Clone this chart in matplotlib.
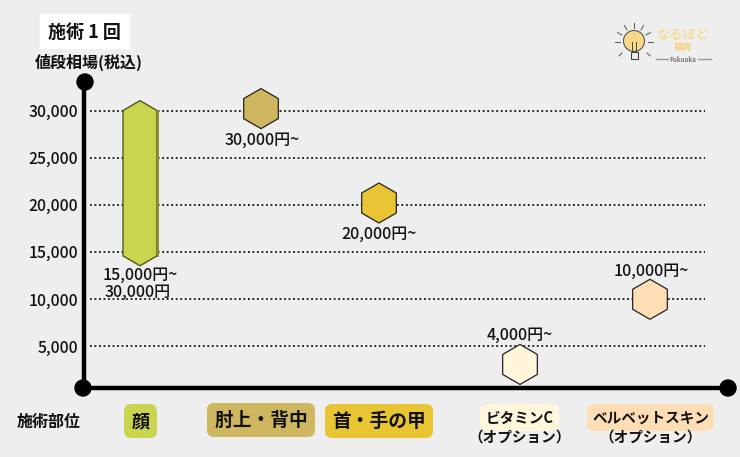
import numpy as np
import matplotlib
matplotlib.use("Agg")
import matplotlib.pyplot as plt
from matplotlib.patches import FancyBboxPatch, Circle

plt.rcParams['font.family'] = ['Noto Sans CJK JP', 'DejaVu Sans']

# values
ticks = [5000, 10000, 15000, 20000, 25000, 30000]
tick_labels = ["5,000", "10,000", "15,000", "20,000", "25,000", "30,000"]
face_low = 14600
face_high = 30000
hex_x = [261, 379, 520, 650]
hex_y = [30200, 20200, 3100, 10000]
hex_colors = ["#CEB75E", "#E9C433", "#FFF6DC", "#FFDDB5"]
price_labels = ["30,000円~", "20,000円~", "4,000円~", "10,000円~"]
price_label_y = [140, 234, 335, 271]
price_label_x = [262, 379, 520, 651]

BG = "#EEEEEE"
fig = plt.figure(figsize=(7.4, 4.57), dpi=100, facecolor=BG)

# value axes, y scale fitted to the gridlines
ax = fig.add_axes([0, 0, 1, 1])
ax.set_xlim(0, 740)
ax.set_ylim(-6706, 41706)
ax.axis("off")

# pixel axes for labels and logo
deco = fig.add_axes([0, 0, 1, 1])
deco.set_xlim(0, 740)
deco.set_ylim(457, 0)
deco.axis("off")
deco.patch.set_alpha(0)

ax.hlines(ticks, 90, 705, colors="#111111", linewidth=1.3, linestyles=(0, (1, 1.5)))

for t, lab in zip(ticks, tick_labels):
    ax.annotate(lab, (78, t), xytext=(0, -1.2), textcoords="offset points", ha="right", va="center",
                fontsize=11.3, fontweight="medium", color="#111111")

# face range bar
bx = 140
bw = 17
cap = 1050
ax.fill([bx - bw, bx, bx + bw, bx + bw, bx, bx - bw],
        [face_high, face_high + cap, face_high, face_low, face_low - cap, face_low],
        facecolor="#C9D44F", edgecolor="#4A4A18", linewidth=0.9, zorder=3)
ax.plot([bx + bw + 0.5, bx + bw + 0.5], [face_high, face_low], color="#8E8A3C", lw=1.4, zorder=4)

ax.scatter(hex_x, hex_y, s=830, marker="h", c=hex_colors, edgecolors="#222222", linewidths=0.9, zorder=3)

deco.plot([84, 84], [82, 388], color="black", lw=3.2, solid_capstyle="butt", zorder=5)
deco.plot([84, 728], [388, 388], color="black", lw=3.2, solid_capstyle="butt", zorder=5)
for cx, cy in [(85, 82), (83, 388), (728, 388)]:
    deco.add_patch(Circle((cx, cy), 8, color="black", zorder=6))

# title and axis names
deco.add_patch(plt.Rectangle((40, 14), 89, 34, color="white", zorder=1))
deco.text(84, 32, "施術 1 回", ha="center", va="center", fontsize=13, fontweight="bold", color="#111111")
deco.text(89, 62, "値段相場(税込)", ha="center", va="center", fontsize=11.5, fontweight="bold", color="#111111")
deco.text(49, 422, "施術部位", ha="center", va="center", fontsize=11.5, fontweight="bold", color="#111111")

for x, y, lab in zip(price_label_x, price_label_y, price_labels):
    deco.text(x, y, lab, ha="center", va="center", fontsize=11.5, fontweight="medium", color="#111111")
deco.text(140, 275, "15,000円~", ha="center", va="center", fontsize=11.5, fontweight="medium", color="#111111")
deco.text(138, 292, "30,000円", ha="center", va="center", fontsize=11.5, fontweight="medium", color="#111111")

# category pills
pills = [(124, 404, 33, 34, "#C9D44F", "顔", 13),
         (207, 403, 108, 34, "#CEB75E", "肘上・背中", 13.5),
         (325, 404, 108, 34, "#E9C433", "首・手の甲", 13.5),
         (480, 404, 79, 27, "#FFF6DC", "ビタミンC", 10.5),
         (587, 404, 127, 27, "#FFDDB5", "ベルベットスキン", 10.5)]
for x, y, w, h, c, lab, fs in pills:
    deco.add_patch(FancyBboxPatch((x + 6, y + 6), w - 12, h - 12, boxstyle="round,pad=6,rounding_size=7",
                                  facecolor=c, edgecolor="none", zorder=2))
    deco.text(x + w / 2, y + h / 2 + 0.5, lab, ha="center", va="center", fontsize=fs, fontweight="bold",
              color="#111111", zorder=3)
deco.text(520, 437, "（オプション）", ha="center", va="center", fontsize=10.5, fontweight="bold", color="#111111")
deco.text(651, 437, "（オプション）", ha="center", va="center", fontsize=10.5, fontweight="bold", color="#111111")

# logo
deco.add_patch(Circle((634, 41), 10.5, facecolor="#F7D98B", edgecolor="#555555", lw=0.8, zorder=3))
deco.add_patch(plt.Rectangle((630.5, 52), 7, 7, facecolor="#EEEEEE", edgecolor="#444444", lw=0.8, zorder=3))
deco.plot([632, 632], [42, 52], color="#444444", lw=0.7, zorder=4)
deco.plot([636, 636], [42, 52], color="#444444", lw=0.7, zorder=4)
for ang in np.arange(-180, 1, 30):
    ca, sa = np.cos(np.radians(ang)), np.sin(np.radians(ang))
    deco.plot([634 + 14 * ca, 634 + 19 * ca], [42 + 14 * sa, 42 + 19 * sa], color="#555555", lw=0.7)
for sx in (622, 647):
    ca = (sx - 634) / 12
    deco.plot([sx, sx + 3 * ca], [53, 56], color="#555555", lw=0.7)
deco.text(683, 35, "なるほど", ha="center", va="center", fontsize=9.5, color="#F7D98B", fontweight="medium")
deco.text(683, 47, "福岡", ha="center", va="center", fontsize=6.5, color="#F2CE7E", fontweight="bold")
deco.text(683, 59, "Fukuoka", ha="center", va="center", fontsize=4.5, color="#777777", fontweight="bold")
deco.plot([656, 668], [59, 59], color="#999999", lw=1)
deco.plot([698, 711], [59, 59], color="#999999", lw=1)

fig.savefig("out.png", dpi=100, facecolor=BG)
